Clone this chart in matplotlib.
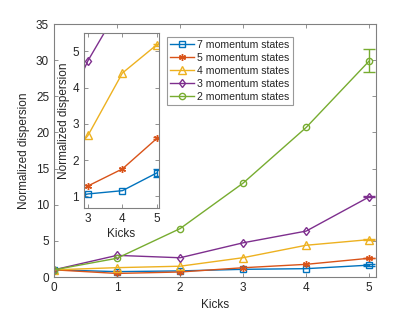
import numpy as np
from matplotlib import pyplot as plt
from matplotlib.lines import Line2D

plt.rcParams['font.family'] = ['Liberation Sans', 'DejaVu Sans']

# data
kicks = [0, 1, 2, 3, 4, 5]
labels = ['7 momentum states', '5 momentum states', '4 momentum states',
          '3 momentum states', '2 momentum states']
disp_7 = [1.0, 0.75, 0.85, 1.07, 1.16, 1.65]
disp_5 = [1.0, 0.5, 0.7, 1.29, 1.76, 2.6]
disp_4 = [1.0, 1.3, 1.5, 2.68, 4.4, 5.18]
disp_3 = [1.0, 3.0, 2.67, 4.74, 6.36, 11.1]
disp_2 = [1.0, 2.6, 6.7, 13.0, 20.7, 29.9]
# only the last points carry a visible error bar
err_7 = [0, 0, 0, 0, 0, 0.1]
err_5 = [0, 0, 0, 0, 0, 0.03]
err_4 = [0, 0, 0, 0, 0, 0.03]
err_3 = [0, 0, 0, 0, 0, 0.05]
err_2 = [0, 0, 0, 0, 0, 1.6]

series = [disp_7, disp_5, disp_4, disp_3, disp_2]
errors = [err_7, err_5, err_4, err_3, err_2]
colors = ['#0072BD', '#D95319', '#EDB120', '#7E2F8E', '#77AC30']
markers = ['s', (6, 2, 0), '^', 'd', 'o']
msizes = [4, 5, 5.5, 4.5, 4.5]

axis_grey = '#808080'
text_grey = '#262626'


def style_axes(ax, fs):
    for sp in ax.spines.values():
        sp.set_color(axis_grey)
        sp.set_linewidth(0.8)
    ax.tick_params(direction='in', top=True, right=True, colors=axis_grey,
                   labelcolor=text_grey, labelsize=fs, length=3, width=0.6)


def draw(axes, cap):
    for y, e, c, m, ms in zip(series, errors, colors, markers, msizes):
        e = np.array(e)
        axes.plot(kicks, y, color=c, marker=m, ms=ms, mfc='none', mew=1.0, lw=1.0)
        has = e > 0
        axes.errorbar(np.array(kicks)[has], np.array(y)[has], yerr=e[has], fmt='none',
                      ecolor=c, capsize=cap, elinewidth=1.0, capthick=1.0)


fig = plt.figure(figsize=(4.15, 3.12), dpi=100)
ax = fig.add_axes([0.130, 0.112, 0.775, 0.811])
draw(ax, 4)

handles = [Line2D([], [], color=c, marker=m, ms=ms, mfc='none', mew=1.0, lw=1.0, label=lab)
           for c, m, ms, lab in zip(colors, markers, msizes, labels)]

ax.set_xlim(0, 5.1)
ax.set_ylim(0, 35)
ax.set_xticks(range(6))
ax.set_yticks(range(0, 36, 5))
ax.set_xlabel('Kicks', fontsize=8.5, color=text_grey)
ax.set_ylabel('Normalized dispersion', fontsize=8.5, color=text_grey)
style_axes(ax, 8.5)

leg = ax.legend(handles=handles, loc='upper left', bbox_to_anchor=(0.35, 0.95),
                fontsize=7.6, frameon=True, fancybox=False, handlelength=2.3,
                handletextpad=0.3, borderpad=0.3, labelspacing=0.28, borderaxespad=0)
leg.get_frame().set_edgecolor(axis_grey)
leg.get_frame().set_linewidth(0.8)
for t in leg.get_texts():
    t.set_color(text_grey)

# inset zoom on kicks 3-5
axi = fig.add_axes([0.202, 0.333, 0.181, 0.561])
draw(axi, 3)
axi.set_xlim(2.88, 5.06)
axi.set_ylim(0.68, 5.5)
axi.set_xticks([3, 4, 5])
axi.set_yticks([1, 2, 3, 4, 5])
axi.set_xlabel('Kicks', fontsize=8.5, color=text_grey, labelpad=2)
axi.set_ylabel('Normalized dispersion', fontsize=8.5, color=text_grey, labelpad=2)
style_axes(axi, 8.5)

fig.savefig('out.png', dpi=100)
